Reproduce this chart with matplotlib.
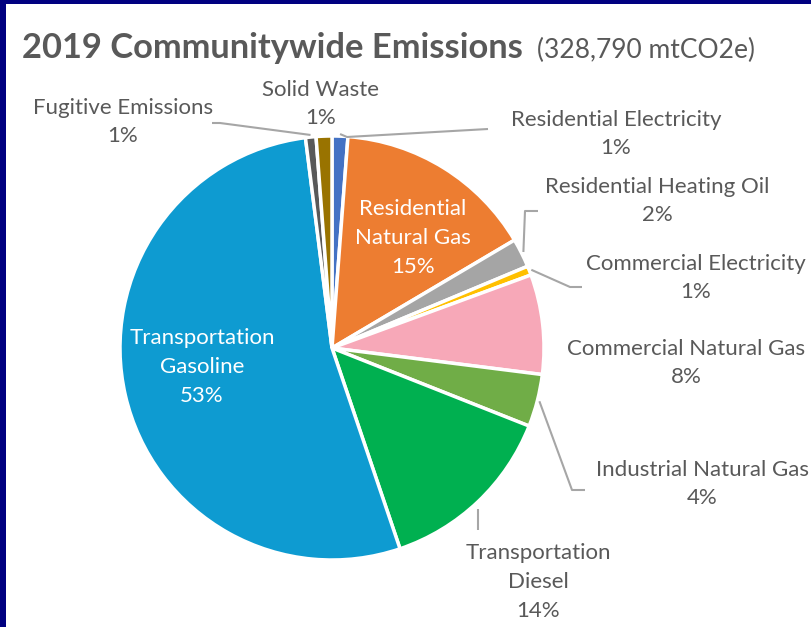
import numpy as np
import matplotlib
matplotlib.use("Agg")
import matplotlib.pyplot as plt
from matplotlib.patches import Rectangle

# ---- data ----
categories = ["Residential Electricity", "Residential Natural Gas", "Residential Heating Oil",
              "Commercial Electricity", "Commercial Natural Gas", "Industrial Natural Gas",
              "Transportation Diesel", "Transportation Gasoline", "Fugitive Emissions", "Solid Waste"]
values = [1.2, 15.3, 2.2, 0.7, 7.6, 4.0, 13.8, 53.2, 0.8, 1.2]
label_texts = ["Residential Electricity", "Residential\nNatural Gas", "Residential Heating Oil",
               "Commercial Electricity", "Commercial Natural Gas", "Industrial Natural Gas",
               "Transportation\nDiesel", "Transportation\nGasoline", "Fugitive Emissions", "Solid Waste"]
colors = ["#4472C4", "#ED7D31", "#A5A5A5", "#FFC000", "#F7A8B8", "#70AD47",
          "#00B050", "#0E9BD1", "#595959", "#997300"]
title_main = "2019 Communitywide Emissions"
title_sub = "(328,790 mtCO2e)"

W, H = 811, 627
plt.rcParams['font.family'] = ['Lato', 'DejaVu Sans']
fig = plt.figure(figsize=(W / 100, H / 100), dpi=100)
fig.patch.set_facecolor("white")
ax = fig.add_axes([0, 0, 1, 1])

def py(y):  # pixel-from-top to data y
    return H - y

cx, cy, R = 332, py(348), 212
total = sum(values)
wedges, _ = ax.pie(values, colors=colors, startangle=90, counterclock=False,
                   center=(cx, cy), radius=R, frame=True,
                   wedgeprops=dict(edgecolor="white", linewidth=2.5))
ax.set_xlim(0, W)
ax.set_ylim(0, H)
ax.axis("off")

TXT = "#595959"
FS = 16
LS = 1.55

def edge_point(i, frac=1.0):
    w = wedges[i]
    ang = np.deg2rad((w.theta1 + w.theta2) / 2)
    return cx + R * frac * np.cos(ang), cy + R * frac * np.sin(ang)

# layout: label center (px from top) and leader elbow points
layout = {
    0: dict(pos=(616, 134), leader=[(347, 137), (488, 129)]),
    1: dict(pos=(413, 238), inside=True),
    2: dict(pos=(657, 201), leader=[(525, 211), (538, 211)]),
    3: dict(pos=(696, 278), leader=[(570, 287), (582, 287)]),
    4: dict(pos=(686, 363)),
    5: dict(pos=(702, 484), leader=[(572, 490), (585, 490)]),
    6: dict(pos=(538, 582), leader=[(478, 509), (478, 530)], start=(478, 509)),
    7: dict(pos=(202, 367), inside=True),
    8: dict(pos=(123, 122), leader=[(220, 123), (212, 123)]),
    9: dict(pos=(321, 104)),
}

for i, (lab, v) in enumerate(zip(label_texts, values)):
    pct = f"{round(100 * v / total):d}%"
    L = layout[i]
    x, y = L["pos"]
    inside = L.get("inside", False)
    ax.text(x, py(y), f"{lab}\n{pct}", ha="center", va="center", multialignment="center",
            fontsize=FS, color="white" if inside else TXT, linespacing=LS)
    if "leader" in L:
        if "start" in L:
            sx, sy = L["start"][0], py(L["start"][1])
        else:
            sx, sy = edge_point(i, 1.01)
        pts = [(sx, sy)] + [(px_, py(py_)) for px_, py_ in L["leader"]]
        xs, ys = zip(*pts)
        ax.plot(xs, ys, color="#A6A6A6", lw=1.5, solid_capstyle="butt")

# titles
ax.text(22, py(48), title_main, ha="left", va="center", fontsize=24.8,
        fontweight="bold", color=TXT)
ax.text(537, py(50), title_sub, ha="left", va="center", fontsize=19, color=TXT)

# navy frame (left and top)
fig.patches.append(Rectangle((0, 0), 6 / W, 1, transform=fig.transFigure,
                             facecolor="#000080", edgecolor="none"))
fig.patches.append(Rectangle((0, 1 - 4 / H), 1, 4 / H, transform=fig.transFigure,
                             facecolor="#000080", edgecolor="none"))

fig.savefig("out.png", dpi=100, facecolor="white")
